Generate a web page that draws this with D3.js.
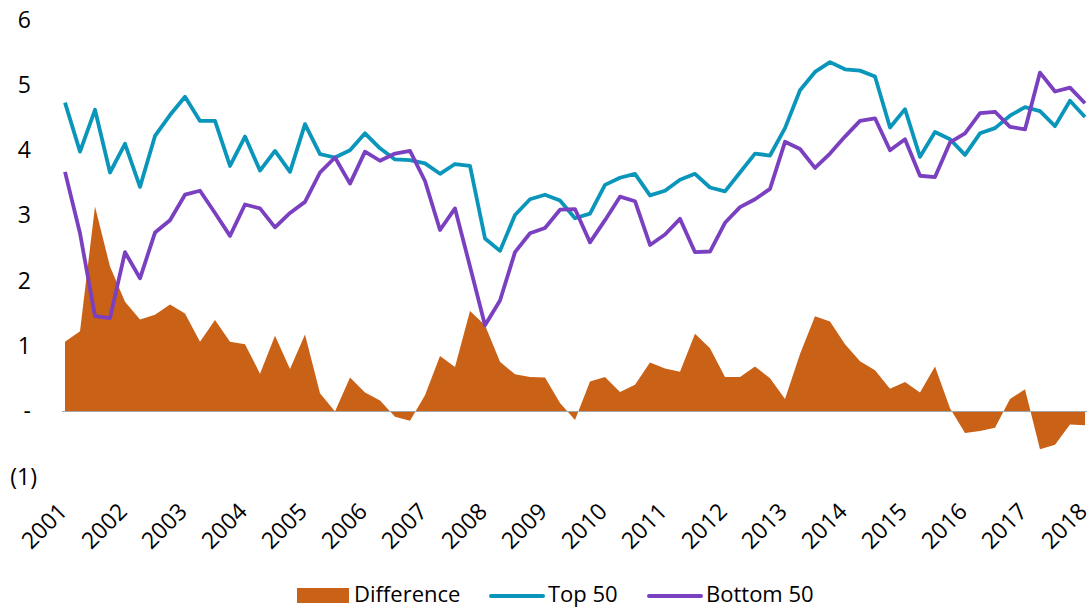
<!DOCTYPE html>
<html>
<head>
<meta charset="utf-8">
<script src="https://cdn.jsdelivr.net/npm/d3@7"></script>
<style>
  body { margin: 0; background: #fff; }
  text { font-family: "Open Sans", "Noto Sans", sans-serif; fill: #000; }
</style>
</head>
<body>
<div id="chart"></div>
<script>
// quarterly, 2001 Q1 .. 2018 Q1
let years = d3.range(2001, 2019);
let top50 = [4.73, 3.98, 4.62, 3.66, 4.10, 3.44, 4.22, 4.54, 4.82, 4.45, 4.45, 3.76, 4.21, 3.69, 3.99, 3.67, 4.40, 3.94, 3.89, 4.00,
    4.26, 4.03, 3.86, 3.85, 3.80, 3.64, 3.79, 3.76, 2.65, 2.46, 3.01, 3.25, 3.32, 3.23, 2.96, 3.03, 3.47, 3.58, 3.64, 3.31,
    3.38, 3.55, 3.64, 3.43, 3.37, 3.66, 3.95, 3.92, 4.34, 4.92, 5.20, 5.35, 5.24, 5.22, 5.13, 4.35, 4.63, 3.90, 4.28, 4.17,
    3.93, 4.26, 4.34, 4.53, 4.66, 4.60, 4.37, 4.76, 4.51];
let bottom50 = [3.67, 2.73, 1.46, 1.43, 2.44, 2.04, 2.74, 2.93, 3.32, 3.38, 3.04, 2.69, 3.17, 3.11, 2.82, 3.04, 3.21, 3.66, 3.89, 3.49,
    3.98, 3.84, 3.95, 3.99, 3.53, 2.78, 3.11, 2.22, 1.32, 1.70, 2.44, 2.73, 2.81, 3.09, 3.10, 2.59, 2.93, 3.29, 3.22, 2.55,
    2.71, 2.95, 2.44, 2.45, 2.89, 3.13, 3.25, 3.41, 4.13, 4.02, 3.73, 3.95, 4.21, 4.45, 4.49, 4.00, 4.17, 3.61, 3.59, 4.12,
    4.26, 4.57, 4.59, 4.36, 4.32, 5.19, 4.90, 4.96, 4.72];
let difference = [1.07, 1.23, 3.14, 2.22, 1.68, 1.41, 1.48, 1.64, 1.50, 1.07, 1.40, 1.07, 1.03, 0.58, 1.16, 0.65, 1.18, 0.28, 0.00, 0.52,
    0.29, 0.17, -0.08, -0.14, 0.25, 0.85, 0.68, 1.54, 1.32, 0.76, 0.57, 0.53, 0.52, 0.13, -0.13, 0.46, 0.53, 0.30, 0.41, 0.75,
    0.66, 0.61, 1.19, 0.97, 0.53, 0.53, 0.69, 0.51, 0.19, 0.88, 1.46, 1.38, 1.03, 0.77, 0.63, 0.35, 0.45, 0.29, 0.69, 0.05,
    -0.33, -0.30, -0.25, 0.19, 0.34, -0.58, -0.51, -0.20, -0.21];
let yTicks = [-1, 0, 1, 2, 3, 4, 5, 6];

let colors = { diff: "#c96116", top: "#0a96bb", bottom: "#7a40c0" };
let fontSize = "23px";
let legendFont = "22px";

let width = 1092, height = 609;
let svg = d3.select("#chart").append("svg").attr("width", width).attr("height", height);

let x = d3.scaleLinear().domain([0, top50.length - 1]).range([65, 1085]);
let y = d3.scaleLinear().domain([-1, 6]).range([476.8, 19.7]);

// y axis labels (accounting style)
let yAxis = svg.append("g").attr("transform", "translate(31,0)")
    .call(d3.axisLeft(y).tickValues(yTicks).tickSize(0).tickPadding(0)
        .tickFormat(d => d === 0 ? "-" : d < 0 ? "(" + (-d) + ")" : d));
yAxis.select(".domain").remove();
yAxis.selectAll("text").style("font-size", fontSize).attr("dx", d => d < 0 ? 6 : 0);

// difference area
let area = d3.area().x((d, i) => x(i)).y0(y(0)).y1(d => y(d));
svg.append("path").datum(difference).attr("d", area).attr("fill", colors.diff);

// zero line
svg.append("line").attr("x1", 62).attr("x2", 1087).attr("y1", y(0)).attr("y2", y(0))
    .attr("stroke", "#a6a6a6").attr("stroke-width", 1.2);

let line = d3.line().x((d, i) => x(i)).y(d => y(d));
svg.append("path").datum(top50).attr("d", line).attr("fill", "none")
    .attr("stroke", colors.top).attr("stroke-width", 3.8).attr("stroke-linejoin", "round");
svg.append("path").datum(bottom50).attr("d", line).attr("fill", "none")
    .attr("stroke", colors.bottom).attr("stroke-width", 3.8).attr("stroke-linejoin", "round");

// x axis labels, rotated
let xAxis = svg.append("g").attr("transform", "translate(3,513)")
    .call(d3.axisBottom(x).tickValues(years.map((yr, i) => i * 4)).tickSize(0)
        .tickFormat((d, i) => years[i]));
xAxis.select(".domain").remove();
xAxis.selectAll("text").style("font-size", fontSize)
    .attr("x", 0).attr("y", 0).attr("dy", 0)
    .attr("text-anchor", "end")
    .attr("transform", "rotate(-45)");

// legend
let legend = svg.append("g").attr("transform", "translate(0,594)");
legend.append("rect").attr("x", 297).attr("y", -6).attr("width", 52).attr("height", 15).attr("fill", colors.diff);
legend.append("text").attr("x", 354).attr("y", 0).attr("dy", "0.35em").style("font-size", legendFont).text("Difference");
legend.append("line").attr("x1", 491).attr("x2", 543).attr("y1", 2).attr("y2", 2)
    .attr("stroke", colors.top).attr("stroke-width", 4).attr("stroke-linecap", "round");
legend.append("text").attr("x", 548).attr("y", 0).attr("dy", "0.35em").style("font-size", legendFont).text("Top 50");
legend.append("line").attr("x1", 649).attr("x2", 701).attr("y1", 2).attr("y2", 2)
    .attr("stroke", colors.bottom).attr("stroke-width", 4).attr("stroke-linecap", "round");
legend.append("text").attr("x", 706).attr("y", 0).attr("dy", "0.35em").style("font-size", legendFont).text("Bottom 50");
</script>
</body>
</html>
